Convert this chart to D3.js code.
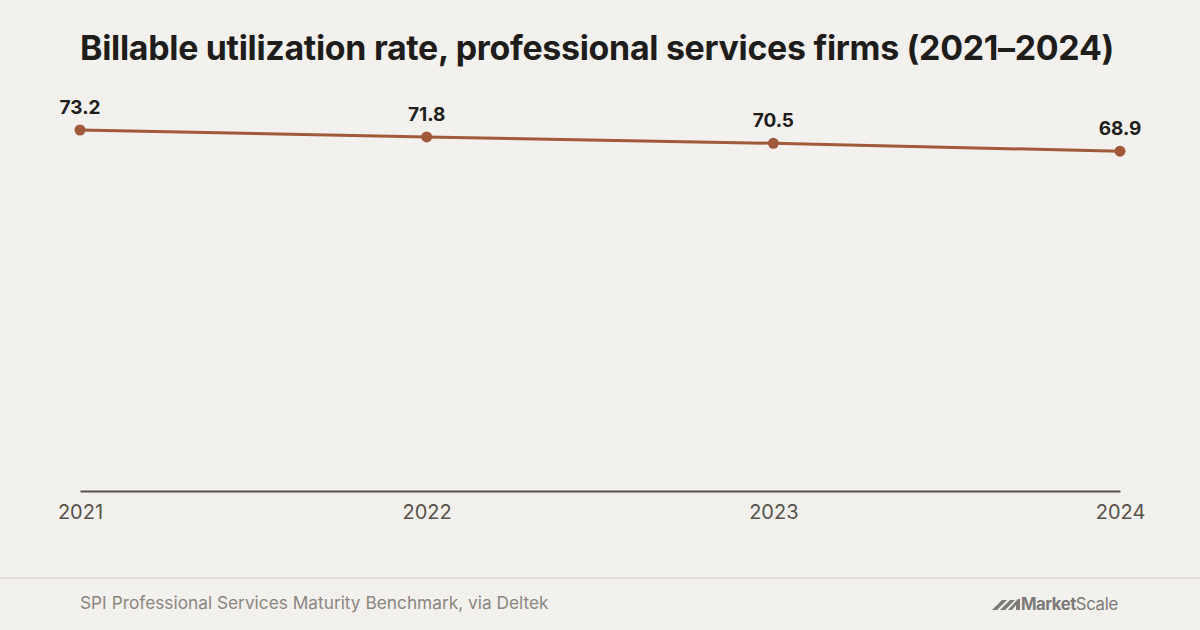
<!DOCTYPE html>
<html>
<head>
<meta charset="utf-8">
<script src="https://cdn.jsdelivr.net/npm/d3@7"></script>
<style>
  html, body { margin: 0; padding: 0; background: #f3f1ed; }
  svg { display: block; }
</style>
</head>
<body>
<svg id="chart" width="1200" height="630"></svg>
<script>
const years = ["2021", "2022", "2023", "2024"];
const utilization = [73.2, 71.8, 70.5, 68.9];
const titleText = "Billable utilization rate, professional services firms (2021–2024)";
const sourceText = "SPI Professional Services Maturity Benchmark, via Deltek";

const W = 1200, H = 630;
const svg = d3.select("#chart");
svg.append("rect").attr("width", W).attr("height", H).attr("fill", "#f3f1ed");

const font = "Inter, 'Noto Sans', sans-serif";

// Title
const title = svg.append("text")
  .attr("x", 597).attr("y", 60)
  .attr("text-anchor", "middle")
  .attr("font-family", font)
  .attr("font-weight", 700)
  .attr("font-size", 32)
  .attr("fill", "#1e1d1b")
  .attr("letter-spacing", "-0.3")
  .text(titleText);
const tw = title.node().getComputedTextLength();
if (tw > 0) title.attr("font-size", 32 * 1033 / tw);

const x = d3.scalePoint().domain(years).range([80, 1120]);
const y = d3.scaleLinear().domain([0, d3.max(utilization)]).range([491, 130]);

// Axis
const xAxis = d3.axisBottom(x).tickSize(0).tickPadding(14);
const gx = svg.append("g").attr("transform", "translate(0,491)").call(xAxis);
gx.select(".domain").attr("stroke", "#57524b").attr("stroke-width", 2);
gx.selectAll("text")
  .attr("font-family", font)
  .attr("font-size", 20)
  .attr("fill", "#57524b");

const data = years.map((yr, i) => ({ yr, v: utilization[i] }));

svg.append("path")
  .datum(data)
  .attr("fill", "none")
  .attr("stroke", "#a0593b")
  .attr("stroke-width", 3)
  .attr("d", d3.line().x(d => x(d.yr)).y(d => y(d.v)));

svg.selectAll("circle.pt").data(data).enter().append("circle")
  .attr("class", "pt")
  .attr("cx", d => x(d.yr)).attr("cy", d => y(d.v))
  .attr("r", 5.5)
  .attr("fill", "#a0593b");

svg.selectAll("text.lbl").data(data).enter().append("text")
  .attr("class", "lbl")
  .attr("x", d => x(d.yr)).attr("y", d => y(d.v) - 16)
  .attr("text-anchor", "middle")
  .attr("font-family", font)
  .attr("font-weight", 700)
  .attr("font-size", 19)
  .attr("fill", "#1e1d1b")
  .text(d => d.v.toFixed(1));

// Footer
svg.append("line")
  .attr("x1", 0).attr("x2", W).attr("y1", 578).attr("y2", 578)
  .attr("stroke", "#e4e1dc").attr("stroke-width", 2);

const src = svg.append("text")
  .attr("x", 80).attr("y", 609)
  .attr("font-family", font)
  .attr("font-size", 17)
  .attr("fill", "#8a8680")
  .text(sourceText);
const sw = src.node().getComputedTextLength();
if (sw > 0) src.attr("font-size", 17 * 469 / sw);

// Logo
const logo = svg.append("g").attr("transform", "translate(992,597)");
logo.append("path")
  .attr("d", "M0,13 L10,3 L15,3 L5,13 Z M8,13 L18,3 L23,3 L13,13 Z M16,13 L26,2 L28,2 L28,13 L24,13 L24,8 L20,13 Z")
  .attr("fill", "#7b7a78");
const lt = logo.append("text")
  .attr("x", 29).attr("y", 13)
  .attr("font-family", font)
  .attr("font-size", 17)
  .attr("fill", "#7b7a78");
lt.append("tspan").attr("font-weight", 700).attr("letter-spacing", "-0.5").text("Market");
lt.append("tspan").attr("font-weight", 400).attr("letter-spacing", "-0.3").text("Scale");
const lw = lt.node().getComputedTextLength();
if (lw > 0) lt.attr("font-size", 17 * 97 / lw);
</script>
</body>
</html>
